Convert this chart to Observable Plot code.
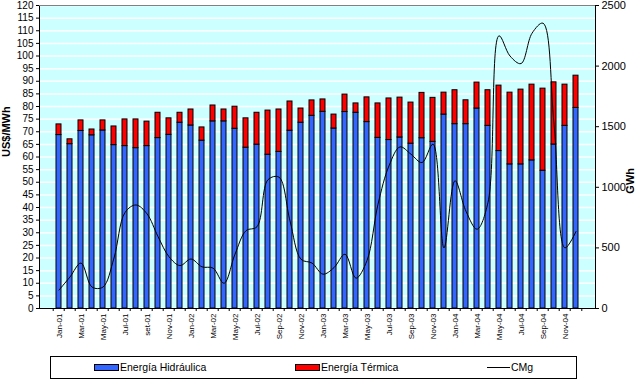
<!DOCTYPE html>
<html>
<head>
<meta charset="utf-8">
<script src="https://cdn.jsdelivr.net/npm/d3@7"></script>
<script src="https://cdn.jsdelivr.net/npm/@observablehq/plot@0.6"></script>
<style>
  body { margin: 0; background: #fff; font-family: "Liberation Sans", Arial, sans-serif; }
  #wrap { position: relative; width: 639px; height: 380px; }
  #legend { position: absolute; left: 50px; top: 356px; width: 525px; height: 21px; border: 1px solid #000; font-size: 10.5px; }
  .it { position: absolute; top: 4px; line-height: 13px; white-space: nowrap; }
  .sw { display: inline-block; width: 23px; height: 5px; border: 1px solid #000; vertical-align: middle; margin-right: 1px; position: relative; top: -1px; }
  .ln { display: inline-block; width: 23px; height: 0; border-top: 1px solid #000; vertical-align: middle; margin-right: 1px; position: relative; top: -1px; }
</style>
</head>
<body>
<div id="wrap">
  <div id="chart"></div>
  <div id="legend">
    <div class="it" style="left:43px"><span class="sw" style="background:#3366ff"></span>Energía Hidráulica</div>
    <div class="it" style="left:244px"><span class="sw" style="background:#ff0000"></span>Energía Térmica</div>
    <div class="it" style="left:436px"><span class="ln"></span>CMg</div>
  </div>
</div>
<script>
const months = [
  "Jan-01","Feb-01","Mar-01","Apr-01","May-01","Jun-01","Jul-01","Aug-01","set-01","Oct-01","Nov-01","Dec-01",
  "Jan-02","Feb-02","Mar-02","Apr-02","May-02","Jun-02","Jul-02","Aug-02","Sep-02","Oct-02","Nov-02","Dec-02",
  "Jan-03","Feb-03","Mar-03","Apr-03","May-03","Jun-03","Jul-03","Aug-03","Sep-03","Oct-03","Nov-03","Dec-03",
  "Jan-04","Feb-04","Mar-04","Apr-04","May-04","Jun-04","Jul-04","Aug-04","Sep-04","Oct-04","Nov-04","Dec-04"
];
// GWh
const hidraulica = [
  1431,1356,1465,1429,1469,1348,1340,1323,1340,1406,1433,1533,
  1510,1385,1544,1544,1483,1327,1352,1269,1292,1467,1533,1590,
  1623,1485,1621,1615,1538,1408,1390,1411,1360,1405,1375,1600,
  1521,1521,1650,1507,1299,1189,1189,1222,1137,1353,1507,1655
];
const termica = [
  88,40,87,48,83,154,220,237,202,209,136,82,
  132,109,131,98,182,242,263,364,350,241,117,127,
  102,115,144,77,204,284,343,329,339,374,363,181,
  280,197,214,294,540,592,617,625,677,513,340,266
];
// US$/MWh
const cmg = [
  7.3,12.5,18,8.5,8.5,20,38,41,37.5,28.5,20.5,17,
  19.6,16.5,16,10,21.5,30.8,32.4,51,52,34.7,19.5,18,
  13.6,16.2,21.5,12,19,41.3,56.5,64,61.1,57.8,65.1,24,
  50.6,38.5,31.4,42,108,100,97,109,113,73,24,30.5
];
const seriesNames = ["Energía Hidráulica","Energía Térmica"];
const leftTicks = d3.range(0, 121, 5);
const rightTicks = [0,500,1000,1500,2000,2500];
const xLabels = months.filter((d,i) => i % 2 === 0);

const K = 2500 / 120; // left (US$/MWh) -> right (GWh)
const barsData = months.flatMap((m,i) => [
  {month: m, series: seriesNames[0], value: hidraulica[i]},
  {month: m, series: seriesNames[1], value: termica[i]}
]);
const lineData = months.map((m,i) => ({month: m, v: cmg[i] * K}));

const W = 639, mL = 39, mR = 44;
const step = (W - mL - mR) / months.length;

const chart = Plot.plot({
  width: W,
  height: 345,
  marginLeft: mL,
  marginRight: mR,
  marginTop: 5,
  marginBottom: 37,
  style: {fontFamily: "'Liberation Sans', Arial, sans-serif", background: "transparent"},
  x: {type: "band", domain: months, paddingInner: 0.55, paddingOuter: 0.275, axis: null},
  y: {domain: [0, 2500], axis: null},
  color: {domain: seriesNames, range: ["#3366ff", "#ff0000"]},
  marks: [
    Plot.frame({fill: "#ccffff", stroke: "none"}),
    Plot.gridY({ticks: leftTicks.map(v => v * K), stroke: "#ffffff", strokeOpacity: 1, strokeWidth: 1.5}),
    Plot.barY(barsData, {x: "month", y: "value", fill: "series", stroke: "#000", strokeWidth: 1}),
    Plot.line(lineData, {x: "month", y: "v", curve: "catmull-rom", stroke: "#000", strokeWidth: 1}),
    Plot.frame({stroke: "#000"}),
    Plot.ruleY([2500], {stroke: "#808080"}),
    Plot.ruleX(months, {x: d => d, y1: 0, y2: -25, dx: -step / 2, stroke: "#000"}),
    Plot.ruleX([months[months.length - 1]], {x: d => d, y1: 0, y2: -25, dx: step / 2, stroke: "#000"}),
    Plot.axisX({ticks: xLabels, tickSize: 0, tickPadding: 5, tickRotate: -90, fontSize: 8, label: null}),
    Plot.axisY({anchor: "left", ticks: leftTicks.map(v => v * K), tickFormat: d => String(Math.round(d / K)), tickSize: 3, tickPadding: 3, fontSize: 10, label: null}),
    Plot.axisY({anchor: "right", ticks: rightTicks, tickFormat: d => String(d), tickSize: 3, tickPadding: 3, fontSize: 11, label: null}),
    Plot.text(["US$/MWh"], {frameAnchor: "left", dx: -33, rotate: -90, fontWeight: "bold", fontSize: 11, fill: "#000"}),
    Plot.text(["GWh"], {frameAnchor: "right", dx: 35, dy: 11, rotate: -90, fontWeight: "bold", fontSize: 11, fill: "#000"})
  ]
});
document.getElementById("chart").appendChild(chart);
</script>
</body>
</html>
